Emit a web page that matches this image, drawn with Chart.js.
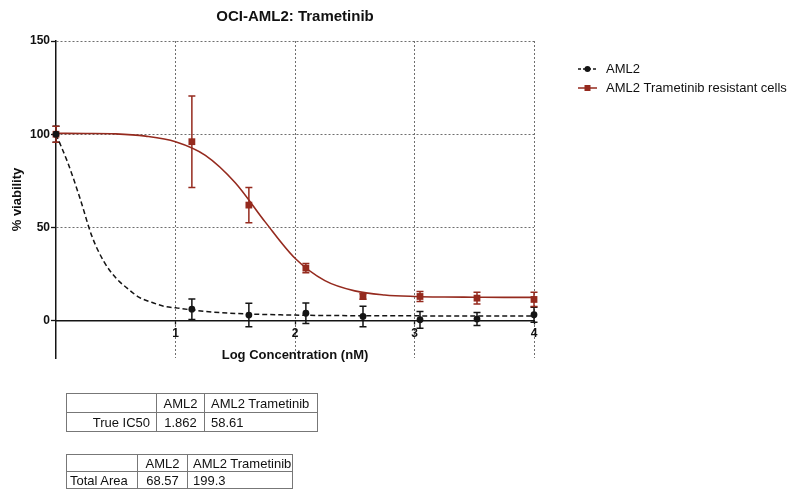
<!DOCTYPE html>
<html>
<head>
<meta charset="utf-8">
<title>OCI-AML2: Trametinib</title>
<script src="https://cdn.jsdelivr.net/npm/chart.js@4.4.1/dist/chart.umd.min.js"></script>
<style>
    html, body { margin: 0; padding: 0; background: #fff; }
    #wrap { position: relative; width: 787px; height: 490px; overflow: hidden; font-family: 'Liberation Sans', Arial, sans-serif; }
    #chart { position: absolute; left: 0; top: 0; }
    table.stats { position: absolute; left: 66px; border-collapse: collapse; table-layout: fixed; font-size: 13px; color: #111; }
    table.stats td { border: 1px solid #777; padding: 0 6px; white-space: nowrap; overflow: hidden; }
    table.stats td.r { text-align: right; }
    table.stats td.c { text-align: center; padding: 0 2px; }
    #ic50 { top: 393px; width: 251px; }
    #ic50 td { height: 18px; }
    #area { top: 454px; width: 226px; }
    #area td { height: 16px; padding: 0 4px 0 5px; }
    #area td.c { padding: 0 2px; }
    #area td.first { padding-left: 3px; }
</style>
</head>
<body>
<div id="wrap">
    <canvas id="chart" width="787" height="490"></canvas>

    <table class="stats" id="ic50">
        <colgroup><col style="width:90px"><col style="width:48px"><col style="width:113px"></colgroup>
        <tr><td></td><td class="c">AML2</td><td>AML2 Trametinib</td></tr>
        <tr><td class="r">True IC50</td><td class="c">1.862</td><td>58.61</td></tr>
    </table>

    <table class="stats" id="area">
        <colgroup><col style="width:71px"><col style="width:50px"><col style="width:105px"></colgroup>
        <tr><td class="first"></td><td class="c">AML2</td><td>AML2 Trametinib</td></tr>
        <tr><td class="first">Total Area</td><td class="c">68.57</td><td>199.3</td></tr>
    </table>
</div>

<script>
// ===== DADOS =====
const logConc = [0, 1.137, 1.614, 2.091, 2.569, 3.046, 3.523, 4.0];

const aml2Mean = [100, 6.2, 3.0, 4.0, 2.3, 0.5, 0.9, 3.2];
const aml2Sd   = [4.3, 5.5, 6.3, 5.5, 5.5, 4.5, 3.5, 4.0];

const resMean = [100, 96, 62, 28.2, 13.0, 13.0, 12.1, 11.4];
const resSd   = [4.3, 24.5, 9.5, 2.5, 1.5, 2.7, 3.2, 3.8];

// curvas ajustadas (amostradas ao longo do log da concentração)
const aml2FitX = [0, 0.1, 0.2, 0.3, 0.4, 0.5, 0.6, 0.7, 0.8, 0.9, 1.0, 1.25, 1.5, 2.0, 2.5, 3.0, 3.5, 4.0];
const aml2FitY = [100, 84.5, 65.8, 45.4, 31.8, 23.0, 17.2, 12.4, 9.9, 7.8, 6.9, 5.0, 3.9, 3.0, 2.7, 2.6, 2.5, 2.5];

const resFitX = [0, 0.25, 0.5, 0.75, 1.0, 1.25, 1.5, 1.75, 2.0, 2.25, 2.5, 2.75, 3.0, 3.25, 3.5, 3.75, 4.0];
const resFitY = [100.5, 100.4, 100.2, 99.0, 96.0, 88.7, 74.0, 53.0, 33.5, 21.5, 16.0, 13.8, 13.0, 12.7, 12.6, 12.5, 12.5];

const xTicks = [1, 2, 3, 4];
const yTicks = [0, 50, 100, 150];

// Cores
const colors = {
    black: '#141414',
    red: '#952a1e',
    grid: '#6e6e6e',
    text: '#111'
};

Chart.defaults.font.family = "'Liberation Sans', Arial, Helvetica, sans-serif";
Chart.defaults.color = colors.text;

const toXY = (xs, ys) => xs.map((x, i) => ({ x: x, y: ys[i] }));

// barras de erro (média ± DP)
const errorBars = {
    id: 'errorBars',
    beforeDatasetsDraw(chart) {
        const { ctx, scales: { x, y } } = chart;
        const series = [
            [aml2Mean, aml2Sd, colors.black],
            [resMean, resSd, colors.red]
        ];
        series.forEach(([mean, sd, color]) => {
            ctx.save();
            ctx.strokeStyle = color;
            ctx.lineWidth = 1.5;
            logConc.forEach((lx, i) => {
                const px = x.getPixelForValue(lx);
                const top = y.getPixelForValue(mean[i] + sd[i]);
                const bot = y.getPixelForValue(mean[i] - sd[i]);
                ctx.beginPath();
                ctx.moveTo(px, top); ctx.lineTo(px, bot);
                ctx.moveTo(px - 3.5, top); ctx.lineTo(px + 3.5, top);
                ctx.moveTo(px - 3.5, bot); ctx.lineTo(px + 3.5, bot);
                ctx.stroke();
            });
            ctx.restore();
        });
    }
};

// legenda à direita do gráfico
const sideLegend = {
    id: 'sideLegend',
    afterDraw(chart) {
        const ctx = chart.ctx;
        const items = [
            { text: 'AML2', color: colors.black, dash: [3, 2], marker: 'circle', y: 69 },
            { text: 'AML2 Trametinib resistant cells', color: colors.red, dash: [], marker: 'rect', y: 88 }
        ];
        ctx.save();
        items.forEach(item => {
            ctx.strokeStyle = item.color;
            ctx.fillStyle = item.color;
            ctx.lineWidth = 1.5;
            ctx.setLineDash(item.dash);
            ctx.beginPath();
            ctx.moveTo(578, item.y);
            ctx.lineTo(597, item.y);
            ctx.stroke();
            ctx.setLineDash([]);
            if (item.marker === 'circle') {
                ctx.beginPath();
                ctx.arc(587.5, item.y, 3, 0, Math.PI * 2);
                ctx.fill();
            } else {
                ctx.fillRect(584.5, item.y - 3, 6, 6);
            }
            ctx.fillStyle = colors.text;
            ctx.font = "13px 'Liberation Sans', Arial, sans-serif";
            ctx.textBaseline = 'middle';
            ctx.fillText(item.text, 606, item.y + 0.5);
        });
        ctx.restore();
    }
};

function createViabilityChart() {
    const ctx = document.getElementById('chart');
    if (!ctx) return;

    new Chart(ctx, {
        type: 'scatter',
        data: {
            datasets: [
                {
                    label: 'AML2',
                    data: toXY(logConc, aml2Mean),
                    pointStyle: 'circle',
                    pointRadius: 3.4,
                    backgroundColor: colors.black,
                    borderColor: colors.black,
                    borderWidth: 0,
                    showLine: false,
                    clip: false
                },
                {
                    label: 'AML2 Trametinib resistant cells',
                    data: toXY(logConc, resMean),
                    pointStyle: 'rect',
                    pointRadius: 4.8,
                    backgroundColor: colors.red,
                    borderColor: colors.red,
                    borderWidth: 0,
                    showLine: false,
                    clip: false
                },
                {
                    label: 'AML2 fit',
                    data: toXY(aml2FitX, aml2FitY),
                    showLine: true,
                    pointRadius: 0,
                    borderColor: colors.black,
                    borderWidth: 1.5,
                    borderDash: [5, 3],
                    cubicInterpolationMode: 'monotone',
                    clip: false
                },
                {
                    label: 'Resistant fit',
                    data: toXY(resFitX, resFitY),
                    showLine: true,
                    pointRadius: 0,
                    borderColor: colors.red,
                    borderWidth: 1.6,
                    cubicInterpolationMode: 'monotone',
                    clip: false
                }
            ]
        },
        options: {
            responsive: false,
            animation: false,
            events: [],
            layout: {
                padding: { top: 0, left: 0, right: 253, bottom: 132 }
            },
            plugins: {
                legend: { display: false },
                tooltip: { enabled: false },
                title: {
                    display: true,
                    fullSize: false,
                    text: 'OCI-AML2: Trametinib',
                    color: colors.text,
                    font: { size: 15, weight: 'bold' },
                    padding: { top: 8, bottom: 15 }
                }
            },
            scales: {
                x: {
                    type: 'linear',
                    min: 0,
                    max: 4,
                    position: { y: 0 },
                    afterBuildTicks: s => { s.ticks = xTicks.map(v => ({ value: v })); },
                    grid: {
                        color: colors.grid,
                        lineWidth: 1,
                        drawTicks: true,
                        tickLength: 3,
                        tickColor: colors.black,
                        tickWidth: 1.3
                    },
                    border: { display: true, color: colors.black, width: 1.5, dash: [2, 2] },
                    ticks: {
                        color: colors.text,
                        font: { size: 12, weight: 'bold' },
                        padding: 3,
                        maxRotation: 0,
                        autoSkip: false
                    },
                    title: {
                        display: true,
                        text: 'Log Concentration (nM)',
                        color: colors.text,
                        font: { size: 13, weight: 'bold' },
                        padding: { top: 4, bottom: 0 }
                    }
                },
                y: {
                    type: 'linear',
                    min: -20,
                    max: 150,
                    position: 'left',
                    afterBuildTicks: s => { s.ticks = yTicks.map(v => ({ value: v })); },
                    afterFit: s => { s.width = 56; },
                    grid: {
                        color: c => (c.tick && c.tick.value === 0) ? 'rgba(0,0,0,0)' : colors.grid,
                        lineWidth: 1,
                        drawTicks: true,
                        tickLength: 5,
                        tickColor: colors.black,
                        tickWidth: 1.3
                    },
                    border: { display: true, color: colors.black, width: 1.5, dash: [2, 2] },
                    ticks: {
                        color: colors.text,
                        font: { size: 12, weight: 'bold' },
                        padding: 1
                    },
                    title: {
                        display: true,
                        text: '% viability',
                        color: colors.text,
                        font: { size: 13, weight: 'bold' },
                        padding: { top: 10, bottom: 0 }
                    }
                }
            }
        },
        plugins: [errorBars, sideLegend]
    });
}

document.addEventListener('DOMContentLoaded', createViabilityChart);
</script>
</body>
</html>
